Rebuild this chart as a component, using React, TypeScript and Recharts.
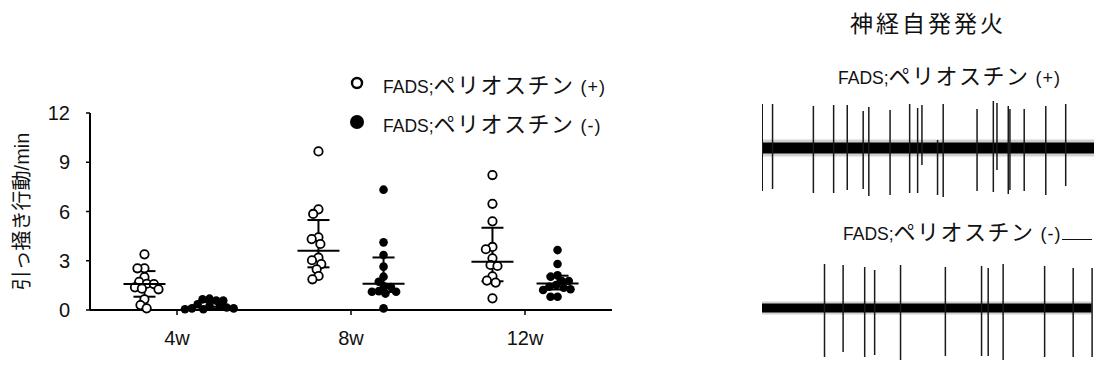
import React from 'react';
import { ComposedChart, Scatter, ErrorBar, XAxis, YAxis, Legend, Bar, Area, Label } from 'recharts';

const weeks = ['4w', '8w', '12w'];
const groupNames = ['FADS;ペリオスチン (+)', 'FADS;ペリオスチン (-)'];
const yTicks = [0, 3, 6, 9, 12];

// scratching bouts / min, one value per mouse
const plus4w = [3.39, 2.54, 2.54, 2.0, 1.72, 1.6, 1.58, 1.38, 1.3, 1.26, 0.65, 0.3, 0.1];
const plus8w = [9.66, 6.13, 5.85, 4.43, 4.32, 4.02, 3.19, 3.03, 2.8, 2.48, 2.07, 1.87];
const plus12w = [8.22, 6.47, 5.4, 3.84, 3.7, 3.15, 2.74, 2.68, 2.05, 1.79, 1.67, 0.71];
const minus4w = [0.69, 0.65, 0.57, 0.57, 0.35, 0.25, 0.2, 0.15, 0.1, 0.1, 0.05, 0.05];
const minus8w = [7.33, 4.12, 3.35, 2.64, 2.03, 1.72, 1.44, 1.4, 1.15, 1.11, 1.11, 1.0, 0.1];
const minus12w = [3.65, 2.8, 2.11, 2.03, 1.77, 1.77, 1.52, 1.42, 1.36, 1.26, 1.22, 0.81, 0.81];

// centre line and whiskers as drawn in the figure
const plusMid = [1.58, 3.61, 2.94];
const plusLow = [0.81, 2.6, 1.75];
const plusHigh = [2.37, 5.48, 5.01];
const minusMid = [0.2, 1.6, 1.62];
const minusLow = [0.08, 1.1, 1.25];
const minusHigh = [0.48, 3.2, 2.09];

// spontaneous firing traces (time in % of the sweep, amplitude a.u.)
const plusSpikeT = [0.1, 3.2, 15.5, 21.6, 25.7, 30.5, 32.2, 38.6, 44.5, 46.9, 48.2, 52.9, 54.6, 64.8, 69.7, 70.8, 74.2, 74.7, 79.0, 85.5, 91.5];
const plusSpikeUp = [44, 44, 42, 43, 43, 37, 41, 38, 44, 40, 43, 8, 44, 39, 47, 45, 42, 39, 39, 42, 44];
const plusSpikeDown = [43, 41, 45, 45, 42, 41, 48, 47, 45, 45, 17, 47, 49, 43, 44, 22, 46, 42, 43, 47, 38];
const minusSpikeT = [18.7, 24.3, 30.8, 33.8, 41.6, 55.1, 66.0, 68.0, 72.5, 85.0, 93.6, 99.3];
const minusSpikeUp = [44, 43, 41, 38, 43, 41, 42, 40, 44, 42, 40, 40];
const minusSpikeDown = [49, 44, 49, 47, 52, 48, 48, 48, 52, 49, 49, 49];
const plusNoise = [5.5, 8.5];
const minusNoise = [4.5, 6.5];

const PX_PER_X = 522 / 3;
const PX_PER_Y = 197 / 12;
const SHIFT = 0.187;
const FONT = '"Liberation Sans", Arial, "Noto Sans CJK JP", sans-serif';

function swarmOffsets(values: number[]): number[] {
  const diam = 7;
  const placed: { x: number; y: number }[] = [];
  return values.map((v) => {
    const y = v * PX_PER_Y;
    const blocks: [number, number][] = [];
    placed.forEach((p) => {
      const dy = Math.abs(p.y - y);
      if (dy < diam) {
        const dx = Math.sqrt(diam * diam - dy * dy);
        blocks.push([p.x - dx, p.x + dx]);
      }
    });
    const cands = [0, ...blocks.flat()].sort((a, b) => Math.abs(a) - Math.abs(b) || a - b);
    const x = cands.find((c) => blocks.every(([l, r]) => c <= l + 1e-6 || c >= r - 1e-6)) ?? 0;
    placed.push({ x, y });
    return x / PX_PER_X;
  });
}

const toPoints = (sets: number[][], shift: number) =>
  sets.flatMap((vals, i) => {
    const off = swarmOffsets(vals);
    return vals.map((v, j) => ({ x: i + 1 + shift + off[j], y: v }));
  });

const toSummary = (mid: number[], low: number[], high: number[], shift: number) =>
  mid.map((m, i) => ({ x: i + 1 + shift, y: m, err: [m - low[i], high[i] - m] }));

const plusPoints = toPoints([plus4w, plus8w, plus12w], -SHIFT);
const minusPoints = toPoints([minus4w, minus8w, minus12w], SHIFT);
const plusSummary = toSummary(plusMid, plusLow, plusHigh, -SHIFT);
const minusSummary = toSummary(minusMid, minusLow, minusHigh, SHIFT);

const traceData = (t: number[], up: number[], down: number[], noise: number[]) => {
  const rows: { t: number; spike: number[] }[] = t.map((tt, i) => ({ t: tt, spike: [-down[i], up[i]] }));
  // sweep ends, unless a spike already sits there (keeps bar spacing wide enough)
  if (t[0] > 1) rows.unshift({ t: 0, spike: [0, 0] });
  if (t[t.length - 1] < 99) rows.push({ t: 100, spike: [0, 0] });
  return rows.map((r) => ({ ...r, core: [-noise[0], noise[0]], fuzz: [-noise[1], noise[1]] }));
};

function Caption({ text, bar }: { text: string; bar?: boolean }) {
  const parts = String(text ?? '').split(/([ァ-ヶー]+)/).filter(Boolean);
  return (
    <span style={{ whiteSpace: 'nowrap', color: '#111' }}>
      {parts.map((p, i) =>
        /[ァ-ヶー]/.test(p) ? (
          <span key={i} style={{ fontSize: 22, letterSpacing: 1.5 }}>{p}</span>
        ) : (
          <span key={i} style={{ fontSize: i > 0 ? 18 : 17.5, letterSpacing: i > 0 ? 1 : 0 }}>{p}</span>
        )
      )}
      {bar && <span style={{ display: 'inline-block', width: 30, height: 0, borderBottom: '1.5px solid #111', verticalAlign: 'baseline' }} />}
    </span>
  );
}

const renderLegend = (props: any) => {
  const names = (props.payload || []).map((e: any) => e.value).filter((v: any) => groupNames.includes(v));
  const rows = names.length ? names : groupNames;
  return (
    <div style={{ fontFamily: FONT }}>
      {rows.map((name: string, i: number) => {
        const hollow = groupNames.indexOf(name) === 0;
        return (
          <div key={i} style={{ display: 'flex', alignItems: 'center', height: 39 }}>
            <svg width={34} height={16}>
              {hollow ? (
                <circle cx={8} cy={8} r={5} fill="#fff" stroke="#000" strokeWidth={2.4} />
              ) : (
                <circle cx={8} cy={8} r={7} fill="#000" />
              )}
            </svg>
            <Caption text={name} />
          </div>
        );
      })}
    </div>
  );
};

function Trace({ data, height, amp }: { data: any[]; height: number; amp: number }) {
  return (
    <ComposedChart width={332} height={height} data={data} margin={{ top: 0, right: 0, bottom: 0, left: 0 }}>
      <XAxis type="number" dataKey="t" domain={[0, 100]} hide />
      <YAxis type="number" domain={[-amp, amp]} hide allowDataOverflow />
      <Area type="linear" dataKey="fuzz" stroke="none" fill="#000" fillOpacity={0.18} dot={false} activeDot={false} isAnimationActive={false} />
      <Area type="linear" dataKey="core" stroke="none" fill="#000" fillOpacity={1} dot={false} activeDot={false} isAnimationActive={false} />
      <Bar dataKey="spike" barSize={1.5} fill="#1a1a1a" isAnimationActive={false} />
    </ComposedChart>
  );
}

export default function App() {
  return (
    <div style={{ position: 'absolute', left: 0, top: 0, width: 1094, height: 371, background: '#fff', fontFamily: FONT, overflow: 'hidden' }}>
      <div style={{ position: 'absolute', left: 0, top: 0 }}>
        <ComposedChart width={640} height={371} margin={{ top: 113, right: 28, bottom: 21, left: 0 }}>
          <XAxis
            type="number"
            dataKey="x"
            domain={[0.5, 3.5]}
            ticks={[1, 2, 3]}
            tickFormatter={(v: number) => weeks[v - 1]}
            axisLine={{ stroke: '#000', strokeWidth: 2 }}
            tickLine={{ stroke: '#000', strokeWidth: 1.5 }}
            tickSize={5}
            tickMargin={16}
            height={40}
            tick={{ fill: '#111', fontSize: 20, fontFamily: FONT }}
            allowDataOverflow
          />
          <YAxis
            type="number"
            dataKey="y"
            domain={[0, 12]}
            ticks={yTicks}
            axisLine={{ stroke: '#000', strokeWidth: 2 }}
            tickLine={{ stroke: '#000', strokeWidth: 1.5 }}
            tickSize={4}
            tickMargin={16}
            width={90}
            tick={{ fill: '#111', fontSize: 20, fontFamily: FONT }}
          >
            <Label
              content={(p: any) => {
                const vb = p.viewBox || { x: 0, y: 113, height: 197 };
                const cx = vb.x + 22;
                const cy = vb.y + vb.height / 2;
                return (
                  <text x={cx} y={cy} transform={`rotate(-90 ${cx} ${cy})`} textAnchor="middle" dominantBaseline="central" fill="#111" fontSize={20} fontFamily={FONT}>
                    引っ掻き行動/min
                  </text>
                );
              }}
            />
          </YAxis>
          <Legend
            layout="horizontal"
            verticalAlign="middle"
            align="center"
            content={renderLegend}
            wrapperStyle={{ top: 63, left: 349, width: 290 }}
          />
          <Scatter
            name={groupNames[0]}
            data={plusPoints}
            fill="#fff"
            isAnimationActive={false}
            shape={(p: any) => <circle cx={p.cx} cy={p.cy} r={4.2} fill="#fff" stroke="#000" strokeWidth={1.8} />}
          />
          <Scatter
            name={groupNames[1]}
            data={minusPoints}
            fill="#000"
            isAnimationActive={false}
            shape={(p: any) => <circle cx={p.cx} cy={p.cy} r={4.3} fill="#000" />}
          />
          {[plusSummary, minusSummary].map((d, i) => (
            <Scatter
              key={i}
              data={d}
              legendType="none"
              isAnimationActive={false}
              shape={(p: any) => <line x1={p.cx - 21} x2={p.cx + 21} y1={p.cy} y2={p.cy} stroke="#000" strokeWidth={2} />}
            >
              <ErrorBar dataKey="err" direction="y" width={11} stroke="#000" strokeWidth={2} isAnimationActive={false} />
            </Scatter>
          ))}
        </ComposedChart>
      </div>

      <div style={{ position: 'absolute', left: 850, top: 11, fontSize: 23, letterSpacing: 3, lineHeight: '26px', color: '#111', whiteSpace: 'nowrap' }}>
        神経自発発火
      </div>
      <div style={{ position: 'absolute', left: 838, top: 64, lineHeight: '26px' }}>
        <Caption text="FADS;ペリオスチン (+)" />
      </div>
      <div style={{ position: 'absolute', left: 762, top: 98 }}>
        <Trace data={traceData(plusSpikeT, plusSpikeUp, plusSpikeDown, plusNoise)} height={100} amp={50} />
      </div>
      <div style={{ position: 'absolute', left: 843, top: 220, lineHeight: '26px' }}>
        <Caption text="FADS;ペリオスチン (-)" bar />
      </div>
      <div style={{ position: 'absolute', left: 762, top: 253 }}>
        <Trace data={traceData(minusSpikeT, minusSpikeUp, minusSpikeDown, minusNoise)} height={110} amp={55} />
      </div>
    </div>
  );
}
